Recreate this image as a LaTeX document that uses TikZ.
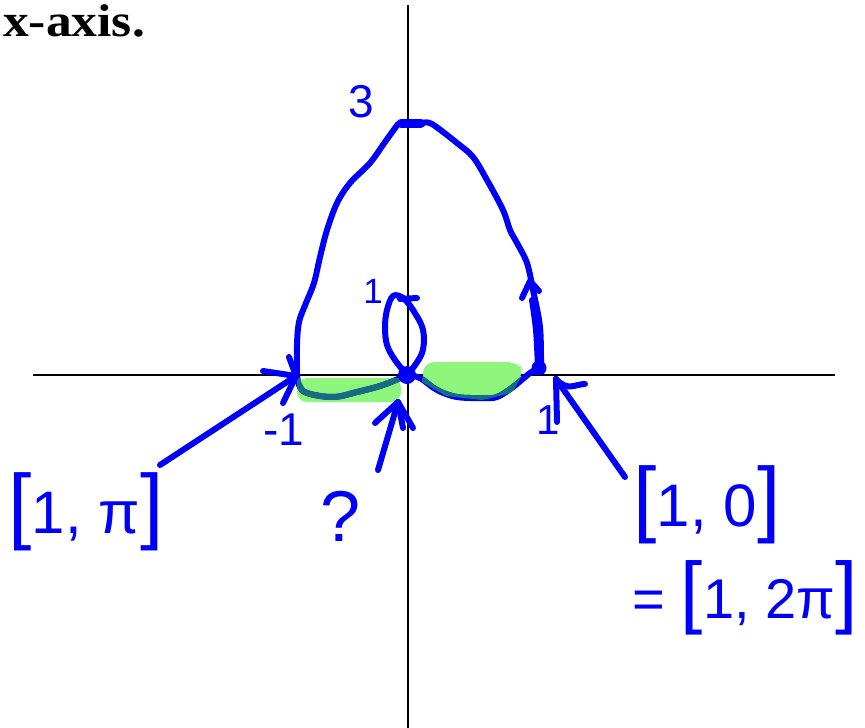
\documentclass[tikz,border=0pt]{standalone}
\usepackage{fontspec}
\setmainfont{Liberation Sans}
\newfontfamily\titlefont{Liberation Serif}
\definecolor{pen}{RGB}{0,0,248}
\definecolor{hl}{RGB}{140,245,122}
\definecolor{penhl}{RGB}{22,108,128}
\begin{document}
\begin{tikzpicture}[x=1pt,y=-1pt,
  pen/.style={draw=pen,line width=6pt,line cap=round,line join=round},
  penover/.style={draw=penhl,line width=6pt,line cap=round,line join=round},
  axis/.style={draw=black,line width=1.6pt},
  lbl/.style={text=pen,inner sep=0pt},
  hlfill/.style={fill=hl,rounded corners=10pt}]
\useasboundingbox (0,0) rectangle (865,728);

% key points
\coordinate (O) at (407,375);
\coordinate (Pm) at (296,376);
\coordinate (Pp) at (539,368);
\coordinate (Top) at (411,123);

% title
\node[anchor=base west,inner sep=0pt,xscale=1.12] (title) at (3,36)
  {\titlefont\bfseries\fontsize{46}{46}\selectfont x-axis.};

% axes
\coordinate (xl) at (33,375);
\coordinate (xr) at (835,375);
\coordinate (yt) at (408,5);
\coordinate (yb) at (408,728);
\draw[axis] (xl) -- (xr);
\draw[axis] (yt) -- (yb);

% highlights
\fill[hlfill] (297,378) -- (401,378) -- (401,402) -- (297,402) -- cycle;
\fill[hlfill] (424,362) -- (518,362) -- (524,372) -- (512,393) -- (482,400) -- (446,396) -- (422,382) -- cycle;

% outer curve
\draw[pen] plot[smooth,tension=0.55] coordinates {(297,378) (297,345) (299,322) (306,303) (314,283) (320,257) (327,230) (337,203) (350,183) (370,163) (385,142) (398,124)};
\draw[pen,line width=9pt] (401,123) -- (421,123);
\draw[pen] plot[smooth,tension=0.55] coordinates {(423,123) (432,124) (457,143) (473,157) (487,180) (503,210) (510,230) (517,243) (527,263) (533,290) (540,327) (541,367)};
\draw[pen] plot[smooth,tension=0.55] coordinates {(532,300) (536,330) (538,368)};
\draw[pen] (522,298) -- (530,281) -- (539,291);

% lower branches
\draw[pen] plot[smooth,tension=0.6] coordinates {(297,374) (299,385) (307,393) (333,397) (357,392) (383,385) (407,375)};
\draw[pen] plot[smooth,tension=0.6] coordinates {(407,375) (420,378) (437,390) (457,397) (483,398) (497,397) (513,387) (530,373) (539,368)};
\begin{scope}
  \clip (297,378) -- (401,378) -- (401,402) -- (297,402) -- cycle
        (424,362) -- (518,362) -- (524,372) -- (512,393) -- (482,400) -- (446,396) -- (422,382) -- cycle;
  \draw[penover] plot[smooth,tension=0.6] coordinates {(297,374) (299,385) (307,393) (333,397) (357,392) (383,385) (407,375)};
  \draw[penover] plot[smooth,tension=0.6] coordinates {(407,375) (420,378) (437,390) (457,397) (483,398) (497,397) (513,387) (530,373) (539,368)};
\end{scope}

% inner loop
\draw[pen] plot[smooth,tension=0.6] coordinates {(407,375) (395,360) (387,345) (385,327) (387,310) (393,296) (403,298) (413,310) (423,330) (422,353) (409,373)};
\draw[pen] (400,299) -- (417,298);

% dots
\fill[fill=pen] (O) circle (9pt);
\fill[fill=pen] (Pp) circle (7.5pt);

% labels
\node[lbl] (l3) at (361,102) {\fontsize{46}{46}\selectfont 3};
\node[lbl] (l1in) at (373,291) {\fontsize{35}{35}\selectfont 1};
\node[lbl] (lm1) at (284,430) {\fontsize{46}{46}\selectfont -1};
\node[lbl] (l1r) at (548,420) {\fontsize{42}{42}\selectfont 1};
\node[lbl] (lq) at (341,516) {\fontsize{72}{72}\selectfont ?};
\node[lbl] (lpi) at (86,512) {\fontsize{84}{84}\selectfont[\fontsize{60}{60}\selectfont 1, π\fontsize{84}{84}\selectfont]};
\node[lbl] (l10) at (707,505) {\fontsize{84}{84}\selectfont[\fontsize{60}{60}\selectfont 1, 0\fontsize{84}{84}\selectfont]};
\node[lbl] (l12pi) at (745,598) {\fontsize{56}{56}\selectfont = \fontsize{80}{80}\selectfont[\fontsize{56}{56}\selectfont 1, 2π\fontsize{80}{80}\selectfont]};

% arrows
\coordinate (a1s) at (160,465);
\draw[pen] (a1s) -- (Pm);
\draw[pen] (263,371) -- (Pm);
\draw[pen] (289,357) -- (Pm);
\draw[pen] (283,403) -- (Pm);

\coordinate (a2s) at (378,470);
\coordinate (a2t) at (398,402);
\draw[pen] (a2s) -- (a2t);
\draw[pen] (375,423) -- (a2t) -- (413,428);
\draw[pen] (403,428) -- (a2t);

\coordinate (a3s) at (625,477);
\coordinate (a3t) at (556,379);
\draw[pen] (a3s) -- (a3t);
\draw[pen] (a3t) .. controls (568,392) and (575,384) .. (585,384);
\draw[pen] (557,422) -- (a3t);
\end{tikzpicture}
\end{document}
